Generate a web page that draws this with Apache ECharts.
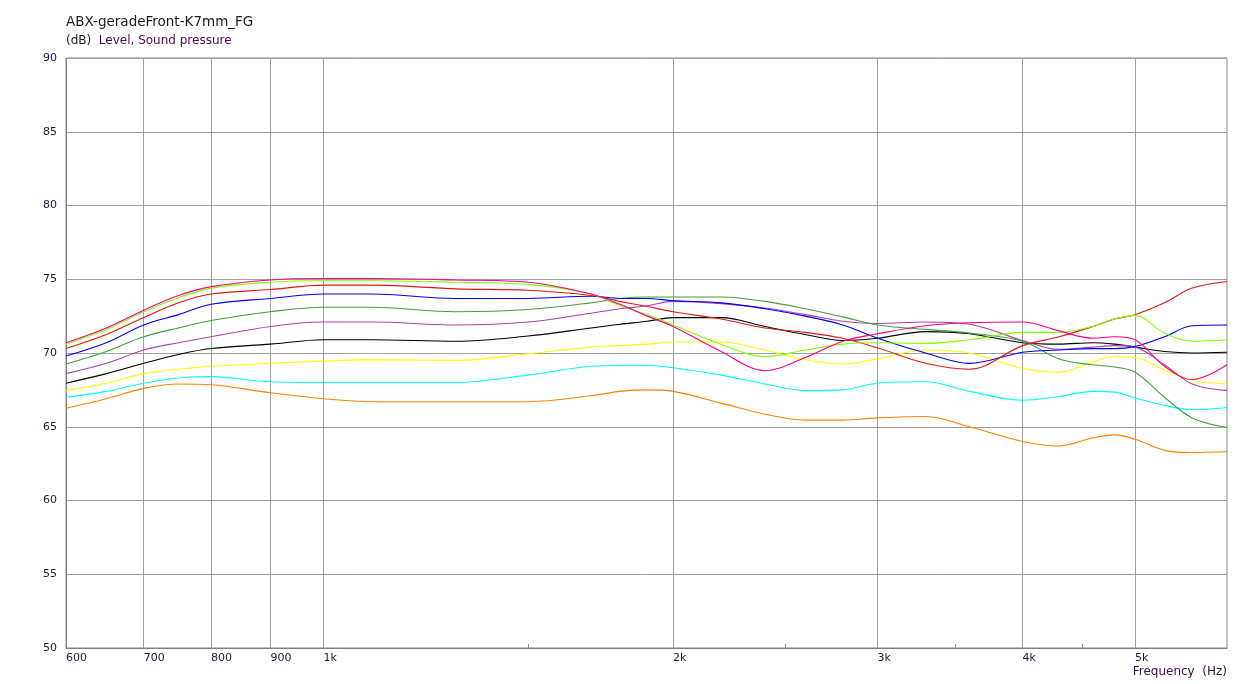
<!DOCTYPE html>
<html><head><meta charset="utf-8">
<script src="https://cdn.jsdelivr.net/npm/echarts@6/dist/echarts.min.js"></script>
<style>html,body{margin:0;padding:0;background:#fff}#c{width:1251px;height:684px}</style>
</head><body><div id="c"></div>
<script>
const FREQ = [600, 650, 700, 750, 800, 900, 1000, 1100, 1300, 1500, 1700, 1800, 1900, 2000, 2200, 2400, 2600, 2800, 3000, 3300, 3600, 4000, 4300, 4600, 4800, 5000, 5300, 5600, 6000];
const pink   = [70.7, 71.7, 72.9, 73.9, 74.5, 74.95, 75.05, 75.05, 74.95, 74.8, 74.0, 73.3, 72.5, 71.8, 70.1, 68.8, 69.7, 70.8, 71.3, 71.85, 72.05, 72.1, 71.5, 71.0, 71.1, 70.9, 69.1, 68.2, 69.2];
const lime   = [70.6, 71.6, 72.8, 73.75, 74.4, 74.8, 74.9, 74.9, 74.8, 74.65, 74.0, 73.2, 72.6, 71.9, 70.6, 69.75, 70.2, 70.6, 70.7, 70.65, 70.9, 71.4, 71.4, 71.8, 72.3, 72.55, 71.35, 70.8, 70.9];
const red    = [70.3, 71.25, 72.4, 73.4, 74.0, 74.3, 74.6, 74.6, 74.35, 74.25, 73.9, 73.5, 73.15, 72.8, 72.3, 71.7, 71.4, 71.0, 70.35, 69.3, 68.9, 70.5, 71.1, 71.8, 72.3, 72.6, 73.4, 74.4, 74.85];
const blue   = [69.8, 70.7, 71.9, 72.6, 73.3, 73.7, 74.0, 74.0, 73.7, 73.7, 73.85, 73.7, 73.7, 73.55, 73.4, 73.0, 72.5, 71.9, 71.0, 70.0, 69.3, 70.05, 70.2, 70.3, 70.3, 70.45, 71.1, 71.85, 71.9];
const green  = [69.25, 70.1, 71.1, 71.7, 72.2, 72.8, 73.1, 73.1, 72.8, 72.95, 73.4, 73.7, 73.8, 73.8, 73.8, 73.5, 73.0, 72.45, 71.9, 71.6, 71.35, 70.8, 69.6, 69.2, 69.05, 68.7, 67.0, 65.6, 64.95];
const purple = [68.6, 69.3, 70.2, 70.7, 71.1, 71.8, 72.1, 72.1, 71.9, 72.1, 72.7, 73.0, 73.2, 73.5, 73.35, 73.05, 72.6, 72.15, 72.0, 72.1, 71.95, 70.85, 70.25, 70.4, 70.5, 70.4, 69.2, 67.9, 67.45];
const black  = [67.95, 68.6, 69.3, 69.9, 70.3, 70.6, 70.9, 70.9, 70.8, 71.15, 71.7, 71.95, 72.15, 72.4, 72.4, 71.8, 71.25, 70.85, 71.0, 71.45, 71.3, 70.7, 70.6, 70.7, 70.6, 70.4, 70.1, 70.0, 70.05];
const yellow = [67.45, 67.95, 68.6, 68.9, 69.1, 69.3, 69.45, 69.55, 69.5, 69.95, 70.4, 70.5, 70.6, 70.75, 70.75, 70.2, 69.55, 69.25, 69.6, 70.2, 70.0, 68.95, 68.7, 69.4, 69.75, 69.7, 68.85, 68.15, 67.9];
const cyan   = [67.0, 67.4, 67.95, 68.3, 68.4, 68.05, 68.0, 68.0, 68.0, 68.5, 69.1, 69.15, 69.15, 69.0, 68.5, 67.9, 67.45, 67.5, 67.95, 68.05, 67.4, 66.8, 67.05, 67.4, 67.35, 66.95, 66.45, 66.15, 66.3];
const orange = [66.25, 66.9, 67.6, 67.9, 67.85, 67.3, 66.9, 66.7, 66.7, 66.7, 67.1, 67.4, 67.5, 67.4, 66.6, 65.85, 65.45, 65.45, 65.6, 65.7, 65.0, 64.0, 63.7, 64.25, 64.45, 64.15, 63.4, 63.25, 63.3];

const X_LABEL_TICKS = [600, 700, 800, 900, 1000, 2000, 3000, 4000, 5000];
const X_MINOR_TICKS = [1500, 2500, 3500, 4500];
const Y_MIN = 50, Y_MAX = 90, Y_STEP = 5;
const F_MIN = 600, F_MAX = 6000;

const L = Math.log10;
const seriesDefs = [
  ['orange', orange, '#ff8000'],
  ['cyan', cyan, '#00ffff'],
  ['yellow', yellow, '#ffff00'],
  ['black', black, '#000000'],
  ['purple', purple, '#b040b0'],
  ['green', green, '#40a040'],
  ['blue', blue, '#0000ff'],
  ['red', red, '#e01818'],
  ['lime', lime, '#80ff00'],
  ['pink', pink, '#ff0080']
];
function fmt(v){
  const f = Math.round(Math.pow(10, v));
  return f >= 1000 ? (f/1000) + 'k' : String(f);
}
const FONT = 'DejaVu Sans';
const chart = echarts.init(document.getElementById('c'), null, {renderer:'canvas'});
chart.setOption({
  animation: false,
  backgroundColor: '#ffffff',
  title: [
    {text: 'ABX-geradeFront-K7mm_FG', left: 61, top: 10, textStyle: {fontFamily: FONT, fontSize: 13.5, fontWeight: 'normal', color: '#1a1a1a'}},
    {text: '{a|(dB)}  {b|Level, Sound pressure}', left: 61, top: 30, textStyle: {fontFamily: FONT, fontSize: 12, fontWeight: 'normal', rich: {a: {fontFamily: FONT, fontSize: 12, color: '#202020'}, b: {fontFamily: FONT, fontSize: 12, color: '#4a0a4a'}}}},
    {text: 'Frequency  (Hz)', right: 19, top: 661, textStyle: {fontFamily: FONT, fontSize: 12, fontWeight: 'normal', color: '#3a0a4a'}}
  ],
  grid: {left: 66, right: 24, top: 58, bottom: 36, show: true, borderColor: '#8a8a8a', borderWidth: 1, containLabel: false},
  xAxis: [{
    type: 'value', min: L(F_MIN), max: L(F_MAX),
    axisLine: {show: true, lineStyle: {color: '#808080'}},
    axisTick: {show: false, customValues: X_LABEL_TICKS.map(L)},
    splitLine: {show: true, lineStyle: {color: '#a0a0a0', width: 1}},
    axisLabel: {customValues: X_LABEL_TICKS.map(L), formatter: fmt, align: 'left', margin: 5, fontFamily: FONT, fontSize: 11, color: '#1a1a40', showMinLabel: true, showMaxLabel: true}
  }, {
    type: 'value', min: L(F_MIN), max: L(F_MAX), position: 'bottom', gridIndex: 0,
    axisLine: {show: false},
    axisTick: {show: true, inside: true, length: 4, customValues: X_MINOR_TICKS.map(L), lineStyle: {color: '#909090'}},
    splitLine: {show: false},
    axisLabel: {show: false}
  }],
  yAxis: {
    type: 'value', min: Y_MIN, max: Y_MAX, interval: Y_STEP,
    axisLine: {show: true, lineStyle: {color: '#808080'}},
    axisTick: {show: false},
    splitLine: {show: true, lineStyle: {color: '#a0a0a0', width: 1}},
    axisLabel: {margin: 9, fontFamily: FONT, fontSize: 11, color: '#1a1a40'}
  },
  series: seriesDefs.map(([name, vals, color]) => ({
    name, type: 'line', xAxisIndex: 0, smooth: 0.35, symbol: 'none',
    lineStyle: {color, width: 1.1}, itemStyle: {color},
    data: FREQ.map((f, i) => [L(f), vals[i]])
  }))
});
</script></body></html>
